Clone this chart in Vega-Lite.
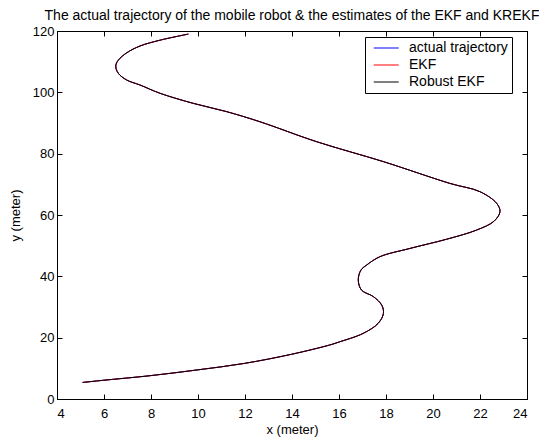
{
  "$schema": "https://vega.github.io/schema/vega-lite/v6.json",
  "width": 470,
  "height": 368,
  "autosize": "none",
  "padding": {"left": 57, "top": 31, "right": 12, "bottom": 40},
  "background": "white",
  "title": {"text": "The actual trajectory of the mobile robot & the estimates of the EKF and KREKF", "font": "Liberation Sans", "fontSize": 14, "fontWeight": "normal", "color": "black", "anchor": "middle", "offset": 2},
  "config": {
    "view": {"stroke": "black", "strokeWidth": 1},
    "axis": {"labelFont": "Liberation Sans", "labelFontSize": 13, "labelColor": "black", "titleFont": "Liberation Sans", "titleFontSize": 13, "titleFontWeight": "normal", "titleColor": "black", "domainColor": "black", "tickColor": "black", "grid": false, "tickSize": -5, "labelPadding": 8},
    "legend": {"labelFont": "Liberation Sans", "labelFontSize": 14, "labelColor": "black"}
  },
  "data": {"values": [
    {"i": 1, "x": 5.09, "y": 5.4},
    {"i": 2, "x": 5.97, "y": 6.1},
    {"i": 3, "x": 7.96, "y": 7.6},
    {"i": 4, "x": 9.99, "y": 9.5},
    {"i": 5, "x": 11.97, "y": 11.6},
    {"i": 6, "x": 13.99, "y": 14.6},
    {"i": 7, "x": 15.6, "y": 17.6},
    {"i": 8, "x": 15.97, "y": 18.5},
    {"i": 9, "x": 17.03, "y": 21.4},
    {"i": 10, "x": 17.67, "y": 24.7},
    {"i": 11, "x": 17.89, "y": 27.9},
    {"i": 12, "x": 17.82, "y": 30.6},
    {"i": 13, "x": 17.46, "y": 33.4},
    {"i": 14, "x": 16.96, "y": 35.5},
    {"i": 15, "x": 16.82, "y": 38.8},
    {"i": 16, "x": 16.93, "y": 42.0},
    {"i": 17, "x": 17.18, "y": 43.7},
    {"i": 18, "x": 17.74, "y": 46.4},
    {"i": 19, "x": 19.02, "y": 49.1},
    {"i": 20, "x": 20.58, "y": 52.1},
    {"i": 21, "x": 21.86, "y": 55.1},
    {"i": 22, "x": 22.6, "y": 58.0},
    {"i": 23, "x": 22.85, "y": 61.1},
    {"i": 24, "x": 22.71, "y": 63.8},
    {"i": 25, "x": 22.0, "y": 67.6},
    {"i": 26, "x": 20.72, "y": 70.3},
    {"i": 27, "x": 17.89, "y": 77.4},
    {"i": 28, "x": 15.05, "y": 83.9},
    {"i": 29, "x": 12.64, "y": 90.4},
    {"i": 30, "x": 11.22, "y": 93.7},
    {"i": 31, "x": 9.8, "y": 96.4},
    {"i": 32, "x": 8.38, "y": 99.7},
    {"i": 33, "x": 7.53, "y": 102.4},
    {"i": 34, "x": 6.97, "y": 104.0},
    {"i": 35, "x": 6.61, "y": 106.2},
    {"i": 36, "x": 6.5, "y": 108.6},
    {"i": 37, "x": 6.61, "y": 110.5},
    {"i": 38, "x": 6.97, "y": 112.9},
    {"i": 39, "x": 7.53, "y": 115.1},
    {"i": 40, "x": 8.38, "y": 117.0},
    {"i": 41, "x": 9.59, "y": 119.0}
  ]},
  "encoding": {
    "x": {"field": "x", "type": "quantitative", "scale": {"domain": [4, 24], "nice": false, "zero": false}},
    "y": {"field": "y", "type": "quantitative", "scale": {"domain": [0, 120], "nice": false}},
    "order": {"field": "i", "type": "quantitative"}
  },
  "layer": [
    {
      "mark": {"type": "line", "strokeWidth": 1, "interpolate": "catmull-rom"},
      "encoding": {
        "x": {"field": "x", "type": "quantitative", "title": "x (meter)", "axis": {"orient": "bottom", "values": [4, 6, 8, 10, 12, 14, 16, 18, 20, 22, 24], "labelPadding": 13, "titlePadding": 3}},
        "y": {"field": "y", "type": "quantitative", "title": "y (meter)", "axis": {"orient": "left", "values": [0, 20, 40, 60, 80, 100, 120], "titlePadding": 10}},
        "color": {"datum": "actual trajectory", "type": "nominal", "scale": {"domain": ["actual trajectory", "EKF", "Robust EKF"], "range": ["#0000ff", "#ff0000", "#000000"]}, "legend": {"title": null, "orient": "none", "legendX": 308, "legendY": 6, "symbolType": "M-0.36,0H3.64", "symbolSize": 156, "symbolStrokeWidth": 1, "strokeColor": "black", "fillColor": "white", "padding": 4, "rowPadding": 3, "labelOffset": 26, "cornerRadius": 0}}
      }
    },
    {
      "mark": {"type": "line", "strokeWidth": 1, "interpolate": "catmull-rom"},
      "encoding": {
        "x": {"field": "x", "type": "quantitative", "axis": null},
        "y": {"field": "y", "type": "quantitative", "axis": null},
        "color": {"datum": "EKF", "type": "nominal"}
      }
    },
    {
      "mark": {"type": "line", "strokeWidth": 1, "interpolate": "catmull-rom"},
      "encoding": {
        "x": {"field": "x", "type": "quantitative", "axis": null},
        "y": {"field": "y", "type": "quantitative", "axis": null},
        "color": {"datum": "Robust EKF", "type": "nominal"}
      }
    },
    {
      "mark": {"type": "line", "opacity": 0},
      "encoding": {
        "x": {"field": "x", "type": "quantitative", "axis": {"orient": "top", "values": [4, 6, 8, 10, 12, 14, 16, 18, 20, 22, 24], "labels": false, "title": null}},
        "y": {"field": "y", "type": "quantitative", "axis": {"orient": "right", "values": [0, 20, 40, 60, 80, 100, 120], "labels": false, "title": null}}
      }
    }
  ],
  "resolve": {"axis": {"x": "independent", "y": "independent"}}
}
